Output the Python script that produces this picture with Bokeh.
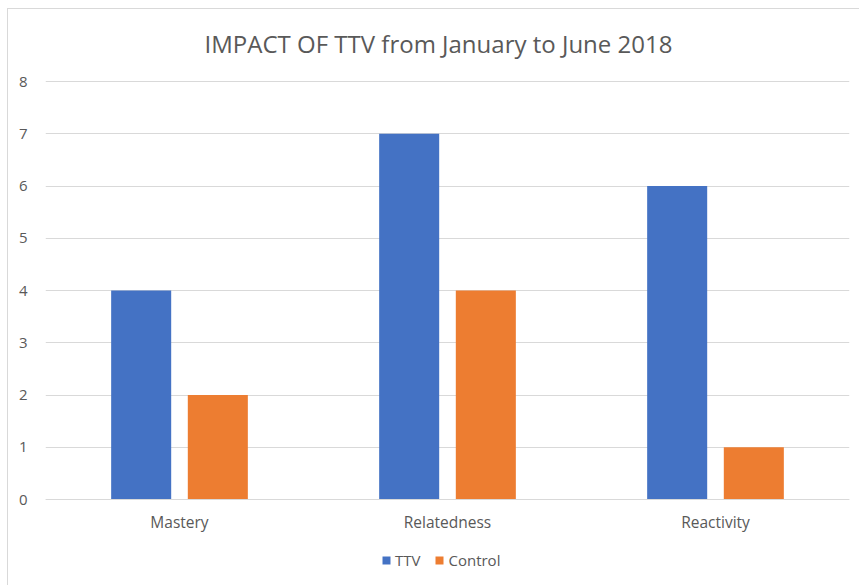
from bokeh.plotting import figure
from bokeh.models import FactorRange, Range1d, Legend, LegendItem, ColumnDataSource, Label
from bokeh.transform import dodge
from bokeh.embed import file_html
from bokeh.resources import INLINE

categories = ["Mastery", "Relatedness", "Reactivity"]
ttv = [4, 7, 6]
control = [2, 4, 1]
series_names = ["TTV", "Control"]
y_ticks = [0, 1, 2, 3, 4, 5, 6, 7, 8]
title_text = "IMPACT OF TTV from January to June 2018"

FONT = "Open Sans"
TXT = "#595959"
GRID = "#d9d9d9"

# frame spans the whole chart box; value axis 0..8 occupies 418 px of it
PX_PER_UNIT = 418 / 8
Y_MIN = -86 / PX_PER_UNIT
Y_MAX = 8 + 72 / PX_PER_UNIT

src = ColumnDataSource(dict(cat=categories, ttv=ttv, control=control))

p = figure(
    x_range=FactorRange(*categories, range_padding=0),
    y_range=Range1d(Y_MIN, Y_MAX),
    frame_width=804, frame_height=576,
    output_backend="svg", toolbar_location=None,
    min_border_left=37, min_border_right=10, min_border_top=0, min_border_bottom=0,
)
p.styles = {"margin-left": "7px", "margin-top": "8px",
            "border-left": "1px solid #d9d9d9", "border-top": "1px solid #d9d9d9"}
p.outline_line_color = None

title = Label(x=393, y=542, x_units="screen", y_units="screen", text=title_text,
              text_align="center", text_baseline="alphabetic",
              text_font=FONT, text_font_size="24px", text_color=TXT)
p.add_layout(title)

r1 = p.vbar(x=dodge("cat", -0.143, range=p.x_range), top="ttv", width=0.224,
            source=src, fill_color="#4472C4", line_color=None)
r2 = p.vbar(x=dodge("cat", 0.143, range=p.x_range), top="control", width=0.224,
            source=src, fill_color="#ED7D31", line_color=None)

p.xgrid.grid_line_color = None
p.ygrid.grid_line_color = GRID
p.ygrid.grid_line_width = 1
p.yaxis.ticker = y_ticks
p.yaxis.axis_line_color = None
p.yaxis.major_tick_line_color = None
p.yaxis.minor_tick_line_color = None
p.yaxis.major_label_standoff = 12
p.yaxis.major_label_text_font = FONT
p.yaxis.major_label_text_font_size = "15px"
p.yaxis.major_label_text_color = TXT

p.xaxis.fixed_location = 0
p.xaxis.axis_line_color = GRID
p.xaxis.major_tick_line_color = None
p.xaxis.minor_tick_line_color = None
p.xaxis.major_label_standoff = 5
p.xaxis.major_label_text_font = FONT
p.xaxis.major_label_text_font_size = "15.5px"
p.xaxis.major_label_text_color = TXT

legend = Legend(items=[LegendItem(label=series_names[0], renderers=[r1]),
                       LegendItem(label=series_names[1], renderers=[r2])],
                orientation="horizontal", location=(336, 15))
legend.border_line_color = None
legend.background_fill_alpha = 0
legend.label_text_font = FONT
legend.label_text_font_size = "15px"
legend.label_text_color = TXT
legend.glyph_width = 10
legend.glyph_height = 10
legend.label_standoff = 4
legend.spacing = 14
legend.padding = 0
legend.margin = 0
p.add_layout(legend, "center")

open("out.html", "w").write(file_html(p, INLINE))
